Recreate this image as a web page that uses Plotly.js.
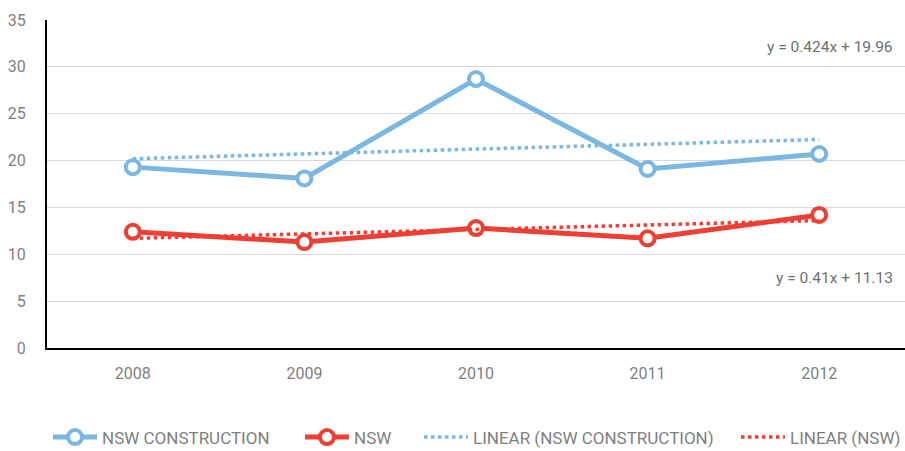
<!DOCTYPE html>
<html><head><meta charset="utf-8">
<script src="https://cdn.plot.ly/plotly-3.0.1.min.js"></script>
<style>body{margin:0;background:#fff}#c{width:905px;height:451px}</style>
</head><body><div id="c"></div>
<script>
const years = ['2008','2009','2010','2011','2012'];
const nswConstruction = [19.3, 18.1, 28.7, 19.1, 20.7];
const nsw = [12.4, 11.3, 12.8, 11.7, 14.2];
const trendYears = ['2008','2012'];
const trendConstruction = [20.2, 22.25];
const trendNSW = [11.7, 13.6];
const yTicks = [0,5,10,15,20,25,30,35];
const eqConstruction = 'y = 0.424x + 19.96';
const eqNSW = 'y = 0.41x + 11.13';

const blue = '#7ab7e3', red = '#ef3e33', grey = '#7f7f7f';
const font = 'Roboto, "Liberation Sans", sans-serif';

const traces = [
  {x: years, y: nswConstruction, name: 'NSW CONSTRUCTION', type:'scatter', mode:'lines+markers', legend:'legend',
   line:{color:blue, width:5}, marker:{symbol:'circle', size:14, color:'#fff', line:{color:blue, width:4}}},
  {x: years, y: nsw, name: 'NSW', type:'scatter', mode:'lines+markers', legend:'legend2',
   line:{color:red, width:5}, marker:{symbol:'circle', size:14, color:'#fff', line:{color:red, width:4}}},
  {x: trendYears, y: trendConstruction, name: 'LINEAR (NSW CONSTRUCTION)', type:'scatter', mode:'lines', legend:'legend3',
   line:{color:blue, width:3.5, dash:'dot'}},
  {x: trendYears, y: trendNSW, name: 'LINEAR (NSW)', type:'scatter', mode:'lines', legend:'legend4',
   line:{color:red, width:3.5, dash:'dot'}}
];

function leg(x){
  return {orientation:'h', xref:'container', yref:'container', x:x, xanchor:'left', y:0.03, yanchor:'middle',
          font:{family:font, size:17, color:grey}, itemwidth:44, bgcolor:'rgba(0,0,0,0)'};
}

const layout = {
  width:905, height:451,
  margin:{l:47, r:0, t:20, b:103},
  paper_bgcolor:'#fff', plot_bgcolor:'#fff',
  font:{family:font, color:grey, size:16},
  showlegend:true,
  legend: leg(48/905),
  legend2: leg(300/905),
  legend3: leg(419/905),
  legend4: leg(736/905),
  xaxis:{type:'category', range:[-0.5,4.5], showgrid:false, zeroline:false,
         showline:true, linecolor:'#000', linewidth:2, ticks:'', ticklabelstandoff:10,
         tickfont:{size:16, color:grey}},
  yaxis:{range:[0,35], tickvals:yTicks, showgrid:true, gridcolor:'#d9d9d9', gridwidth:1,
         zeroline:false, showline:true, linecolor:'#000', linewidth:2, ticks:'',
         ticklabelstandoff:16, tickfont:{size:16, color:grey}},
  annotations:[
    {x:(895-47)/858, y:32.1, xref:'paper', yref:'y', text:eqConstruction, showarrow:false, xanchor:'right',
     font:{size:15.5, color:'#6f6f6f'}},
    {x:(895-47)/858, y:7.45, xref:'paper', yref:'y', text:eqNSW, showarrow:false, xanchor:'right',
     font:{size:15.5, color:'#6f6f6f'}}
  ]
};
Plotly.newPlot('c', traces, layout, {displayModeBar:false, staticPlot:true});
</script></body></html>
